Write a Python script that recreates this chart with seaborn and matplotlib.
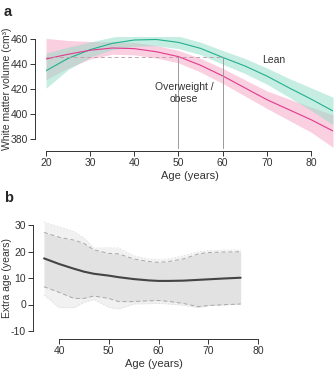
import numpy as np
import pandas as pd
import matplotlib
matplotlib.use("Agg")
import matplotlib.pyplot as plt
import seaborn as sns

# ---- data: panel a ----
ages_a = [20, 25, 30, 35, 40, 45, 50, 55, 60, 65, 70, 75, 80, 85]
lean = [434.6, 444.5, 451.5, 456.5, 459.2, 459.6, 457.3, 452.5, 445.3, 438.5, 430.4, 421.0, 412.0, 402.4]
lean_hw = [14, 9, 6, 5, 5, 5, 5, 5, 5.5, 6, 6.5, 7.5, 9, 11]
ow = [444.0, 447.8, 451.0, 452.8, 452.3, 449.8, 445.9, 439.0, 430.5, 421.0, 411.5, 403.5, 395.5, 386.4]
ow_hw = [16.5, 11, 7, 5, 5, 5, 5, 5.5, 6, 6.5, 7, 8.5, 10, 13]
ref_volume = 445.5
ref_ages = [50, 60]

# ---- data: panel b ----
ages_b = [37, 40, 43, 45, 47, 50, 52, 55, 58, 60, 62, 65, 68, 70, 73, 76.5]
extra = [17.4, 15.3, 13.5, 12.4, 11.6, 10.9, 10.3, 9.6, 9.1, 8.9, 8.9, 9.0, 9.3, 9.5, 9.8, 10.1]
inner_up = [27.2, 25.4, 24.3, 23.1, 20.6, 19.3, 19.1, 17.2, 16.2, 15.9, 16.2, 17.2, 19.1, 19.6, 19.8, 19.9]
inner_lo = [6.7, 4.6, 2.3, 2.3, 3.2, 2.3, 1.1, 1.1, 1.4, 1.5, 1.2, 0.4, -0.8, -0.4, -0.1, 0.2]
outer_up = [31.0, 29.4, 27.5, 25.2, 21.3, 21.4, 21.3, 18.4, 17.2, 17.0, 17.2, 18.4, 19.9, 20.3, 20.5, 20.6]
outer_lo = [3.6, -1.2, -1.2, 0.8, 1.9, -1.1, -1.7, 0.2, 0.3, 0.4, 0.2, -0.3, -1.2, -0.4, -0.1, 0.1]

sns.set_theme(style="ticks")
plt.rcParams['font.family'] = ['Liberation Sans', 'DejaVu Sans']
plt.rcParams['font.size'] = 7.5

W, H = 335, 373
fig = plt.figure(figsize=(W / 100, H / 100), dpi=100)

def px_axes(l, r, t, b):
    return fig.add_axes([l / W, 1 - b / H, (r - l) / W, (b - t) / H])

TEAL_LINE = '#22b08f'
TEAL_BAND = '#8fdcc6'
PINK_LINE = '#e23a8e'
PINK_BAND = '#f7a9c8'
TXT = '#333333'

def style_axes(axx):
    axx.tick_params(length=3.5, width=0.7, pad=1.5, labelsize=7.5, colors=TXT)
    for s in axx.spines.values():
        s.set_linewidth(0.7)
        s.set_color(TXT)
    axx.patch.set_alpha(0)

# ---------- panel a ----------
ax = px_axes(46, 333, 36.5, 149)
dfa = pd.DataFrame({'age': ages_a * 2,
                    'vol': lean + ow,
                    'group': ['Lean'] * len(ages_a) + ['Overweight / obese'] * len(ages_a)})
a = np.array(ages_a)
ax.fill_between(a, np.array(ow) - ow_hw, np.array(ow) + ow_hw, color=PINK_BAND, alpha=0.55, lw=0)
ax.fill_between(a, np.array(lean) - lean_hw, np.array(lean) + lean_hw, color=TEAL_BAND, alpha=0.5, lw=0)
sns.lineplot(data=dfa, x='age', y='vol', hue='group',
             palette={'Lean': TEAL_LINE, 'Overweight / obese': PINK_LINE},
             lw=0.8, legend=False, ax=ax)
ax.plot([20, ref_ages[1]], [ref_volume, ref_volume], ls=(0, (4, 3)), color='#c9a0ad', lw=0.7)
for r in ref_ages:
    ax.plot([r, r], [372, ref_volume], color='#9a9a9a', lw=0.7)
ax.set_xlim(20, 85)
ax.set_ylim(372, 462)
ax.set_xticks([20, 30, 40, 50, 60, 70, 80])
ax.set_yticks([380, 400, 420, 440, 460])
ax.set_yticklabels(['380', '400', '420', '440', '460'], rotation=90, va='center')
ax.set_xlabel('Age (years)', fontsize=8, labelpad=2, color=TXT)
ax.set_ylabel('White matter volume (cm³)', fontsize=7.5, color=TXT)
ax.yaxis.set_label_coords((12 - 46) / 287, (149 - 88.5) / 112.5)
ax.text(71.6, 443, 'Lean', fontsize=7.5, ha='center', va='center', color=TXT)
ax.text(51.3, 417, 'Overweight /\nobese', fontsize=7.5, ha='center', va='center',
        color=TXT, linespacing=1.3)
sns.despine(ax=ax)
ax.spines['left'].set_position(('outward', 8))
ax.spines['bottom'].set_position(('outward', 1.5))
ax.spines['left'].set_bounds(380, 460)
ax.spines['bottom'].set_bounds(20, 80)
style_axes(ax)
fig.text(4 / W, 1 - 12 / H, 'a', fontsize=10.5, fontweight='bold', va='center')

# ---------- panel b ----------
bx = px_axes(39.1, 268, 219.7, 336.3)
b = np.array(ages_b)
bx.fill_between(b, outer_lo, outer_up, color='#f1f1f1', lw=0)
bx.fill_between(b, inner_lo, inner_up, color='#e2e2e2', lw=0)
bx.plot(b, outer_up, color='#dedede', lw=0.6, ls=(0, (2, 2)))
bx.plot(b, outer_lo, color='#dedede', lw=0.6, ls=(0, (2, 2)))
bx.plot(b, inner_up, color='#a8a8a8', lw=0.7, ls=(0, (4, 3)))
bx.plot(b, inner_lo, color='#a8a8a8', lw=0.7, ls=(0, (4, 3)))
dfb = pd.DataFrame({'age': ages_b, 'extra': extra})
sns.lineplot(data=dfb, x='age', y='extra', color='#444444', lw=1.5, ax=bx)
bx.set_xlim(36, 82)
bx.set_ylim(-12, 32)
bx.set_xticks([40, 50, 60, 70, 80])
bx.set_yticks([-10, 0, 10, 20, 30])
bx.set_yticklabels(['-10', '0', '10', '20', '30'], rotation=90, va='center')
bx.set_xlabel('Age (years)', fontsize=8, labelpad=2, color=TXT)
bx.set_ylabel('Extra age (years)', fontsize=7.5, color=TXT)
bx.yaxis.set_label_coords((12 - 39.1) / 228.9, (336.3 - 277.5) / 116.6)
sns.despine(ax=bx)
bx.spines['left'].set_position(('outward', 4.5))
bx.spines['bottom'].set_position(('outward', 2))
bx.spines['left'].set_bounds(-10, 30)
bx.spines['bottom'].set_bounds(40, 80)
style_axes(bx)
fig.text(4 / W, 1 - 198 / H, 'b', fontsize=10.5, fontweight='bold', va='center')

fig.savefig('out.png', dpi=100)
